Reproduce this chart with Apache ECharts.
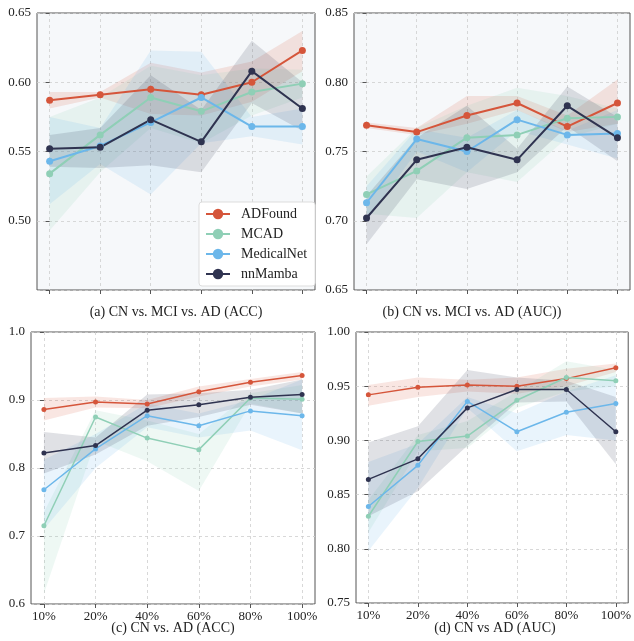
<!DOCTYPE html>
<html>
<head>
<meta charset="utf-8">
<script src="https://cdn.jsdelivr.net/npm/echarts@6/dist/echarts.min.js"></script>
<style>
html,body{margin:0;padding:0;background:#fff;}
#c{width:634px;height:641px;}
</style>
</head>
<body>
<div id="c"></div>
<script>
// ---- data ----
const models = ['ADFound', 'MCAD', 'MedicalNet', 'nnMamba'];
const xLabels = ['10%', '20%', '40%', '60%', '80%', '100%'];
const panelTitles = ['(a) CN vs. MCI vs. AD (ACC)', '(b) CN vs. MCI vs. AD (AUC))', '(c) CN vs. AD (ACC)', '(d) CN vs AD (AUC)'];

// panel (a) : rows follow models order
const aMean = [[0.587,0.591,0.595,0.591,0.600,0.623],[0.534,0.562,0.589,0.579,0.593,0.599],[0.543,0.554,0.571,0.589,0.568,0.568],[0.552,0.553,0.573,0.557,0.608,0.581]];
const aLow  = [[0.581,0.589,0.577,0.576,0.586,0.608],[0.493,0.535,0.567,0.556,0.576,0.589],[0.512,0.541,0.519,0.556,0.561,0.555],[0.539,0.538,0.540,0.535,0.585,0.565]];
const aHigh = [[0.593,0.593,0.614,0.607,0.615,0.637],[0.575,0.589,0.612,0.605,0.610,0.609],[0.575,0.567,0.623,0.622,0.575,0.581],[0.562,0.567,0.605,0.580,0.630,0.600]];
// panel (b)
const bMean = [[0.769,0.764,0.776,0.785,0.768,0.785],[0.719,0.736,0.760,0.762,0.774,0.775],[0.713,0.759,0.750,0.773,0.762,0.763],[0.702,0.744,0.753,0.744,0.783,0.760]];
const bLow  = [[0.767,0.762,0.770,0.780,0.764,0.770],[0.705,0.702,0.735,0.728,0.760,0.770],[0.700,0.750,0.735,0.765,0.755,0.745],[0.683,0.730,0.723,0.735,0.768,0.743]];
const bHigh = [[0.771,0.767,0.790,0.790,0.776,0.802],[0.732,0.767,0.783,0.796,0.790,0.781],[0.725,0.766,0.760,0.780,0.765,0.780],[0.718,0.760,0.783,0.752,0.797,0.775]];
// panel (c)
const cMean = [[0.886,0.897,0.894,0.912,0.926,0.936],[0.715,0.875,0.844,0.827,0.903,0.901],[0.768,0.828,0.877,0.862,0.884,0.877],[0.822,0.833,0.885,0.893,0.904,0.908]];
const cLow  = [[0.870,0.889,0.888,0.905,0.920,0.930],[0.615,0.840,0.810,0.766,0.895,0.880],[0.710,0.800,0.860,0.845,0.855,0.826],[0.792,0.820,0.862,0.875,0.893,0.880]];
const cHigh = [[0.903,0.905,0.900,0.920,0.931,0.941],[0.735,0.885,0.870,0.850,0.910,0.922],[0.812,0.850,0.895,0.880,0.900,0.930],[0.853,0.845,0.908,0.910,0.915,0.930]];
// panel (d)
const dMean = [[0.942,0.949,0.951,0.950,0.957,0.967],[0.830,0.899,0.904,0.937,0.958,0.955],[0.839,0.877,0.936,0.908,0.926,0.934],[0.864,0.883,0.930,0.947,0.947,0.908]];
const dLow  = [[0.932,0.940,0.945,0.943,0.950,0.963],[0.815,0.890,0.893,0.930,0.945,0.950],[0.798,0.856,0.930,0.890,0.905,0.900],[0.830,0.853,0.895,0.935,0.936,0.878]];
const dHigh = [[0.951,0.958,0.956,0.958,0.966,0.971],[0.845,0.905,0.918,0.945,0.973,0.965],[0.880,0.897,0.940,0.925,0.945,0.960],[0.898,0.913,0.965,0.958,0.955,0.940]];

const yTicksA = [0.45, 0.65, 0.05];
const yTicksB = [0.65, 0.85, 0.05];
const yTicksC = [0.6, 1.0, 0.1];
const yTicksD = [0.75, 1.0, 0.05];

// ---- styling ----
const colors = ['#d5553a', '#8fcfb6', '#6cb7ea', '#2f3350'];
const FONT = '"Liberation Serif", "DejaVu Serif", serif';
const SPINE = '#555';

const panels = [
  {mean: aMean, low: aLow, high: aHigh, yt: yTicksA, dec: 2, hideFirst: true, grid: {left: 37, top: 13, width: 278, height: 277}, bg: '#f6f8fa', labels: false, lw: 2, sym: 7},
  {mean: bMean, low: bLow, high: bHigh, yt: yTicksB, dec: 2, hideFirst: false, grid: {left: 354, top: 13, width: 276, height: 277}, bg: '#f6f8fa', labels: false, lw: 2, sym: 7},
  {mean: cMean, low: cLow, high: cHigh, yt: yTicksC, dec: 1, hideFirst: false, grid: {left: 31, top: 332, width: 284, height: 272}, bg: '#ffffff', labels: true, lw: 1.5, sym: 5},
  {mean: dMean, low: dLow, high: dHigh, yt: yTicksD, dec: 2, hideFirst: false, grid: {left: 356, top: 332, width: 274, height: 271}, bg: '#ffffff', labels: true, lw: 1.5, sym: 5}
];
const xIdx = xLabels.map((_, i) => i);

const grids = [], xAxes = [], yAxes = [], lineSeries = [], bandSeries = [];
panels.forEach((p, k) => {
  grids.push(Object.assign({show: true, backgroundColor: p.bg, borderColor: SPINE, borderWidth: 1, containLabel: false}, p.grid));
  xAxes.push({
    type: 'value', gridIndex: k, min: -0.25, max: 5.25,
    axisLine: {show: false},
    axisTick: {show: true, length: 4, customValues: xIdx, lineStyle: {color: SPINE}},
    axisLabel: {show: p.labels, customValues: xIdx, margin: 6, fontFamily: FONT, fontSize: 13, color: '#222',
      formatter: v => xLabels[Math.round(v)]},
    splitLine: {show: true, lineStyle: {color: '#cfcfcf', type: [3, 3], width: 0.8}}
  });
  yAxes.push({
    type: 'value', gridIndex: k, min: p.yt[0], max: p.yt[1], interval: p.yt[2],
    axisLine: {show: false},
    axisTick: {show: true, length: 4, lineStyle: {color: SPINE}},
    axisLabel: {fontFamily: FONT, fontSize: 13, color: '#222', margin: 6,
      formatter: v => (p.hideFirst && Math.abs(v - p.yt[0]) < 1e-9) ? '' : v.toFixed(p.dec)},
    splitLine: {show: true, lineStyle: {color: '#cfcfcf', type: [3, 3], width: 0.8}}
  });
  models.forEach((m, s) => {
    bandSeries.push({
      type: 'custom', name: m + ' band', xAxisIndex: k, yAxisIndex: k, silent: true, z: 1,
      data: xIdx.map(i => [i, p.low[s][i], p.high[s][i]]),
      encode: {x: 0, y: [1, 2]},
      renderItem: function (params, api) {
        if (params.dataIndex !== 0) return null;
        const upper = [], lower = [];
        for (let i = 0; i < xIdx.length; i++) {
          upper.push(api.coord([xIdx[i], p.high[s][i]]));
          lower.push(api.coord([xIdx[i], p.low[s][i]]));
        }
        const pts = upper.concat(lower.reverse());
        return {type: 'polygon', shape: {points: pts}, style: {fill: colors[s], opacity: 0.15}};
      },
      animation: false
    });
    lineSeries.push({
      type: 'line', name: m, xAxisIndex: k, yAxisIndex: k,
      data: xIdx.map(i => [i, p.mean[s][i]]),
      symbol: 'circle', symbolSize: p.sym, showSymbol: true,
      lineStyle: {color: colors[s], width: p.lw}, itemStyle: {color: colors[s]},
      z: 3, animation: false
    });
  });
});

const titlePos = [[176, 312], [472, 312], [173, 628], [495, 628]];
const graphics = panelTitles.map((t, i) => ({
  type: 'text', x: titlePos[i][0], y: titlePos[i][1],
  style: {text: t, fontFamily: FONT, fontSize: 14, fill: '#222', textAlign: 'center', textVerticalAlign: 'middle'}
}));

const chart = echarts.init(document.getElementById('c'), null, {renderer: 'canvas'});
chart.setOption({
  animation: false,
  grid: grids, xAxis: xAxes, yAxis: yAxes,
  legend: {
    data: models, orient: 'vertical', left: 199, top: 202, width: 113,
    backgroundColor: '#ffffff', borderColor: '#dddddd', borderWidth: 1, borderRadius: 3,
    padding: [5, 8, 5, 6], itemGap: 6, itemWidth: 24, itemHeight: 13,
    textStyle: {fontFamily: FONT, fontSize: 14, color: '#222', padding: [0, 0, 0, 6]}
  },
  graphic: graphics,
  series: lineSeries.concat(bandSeries)
});
</script>
</body>
</html>
